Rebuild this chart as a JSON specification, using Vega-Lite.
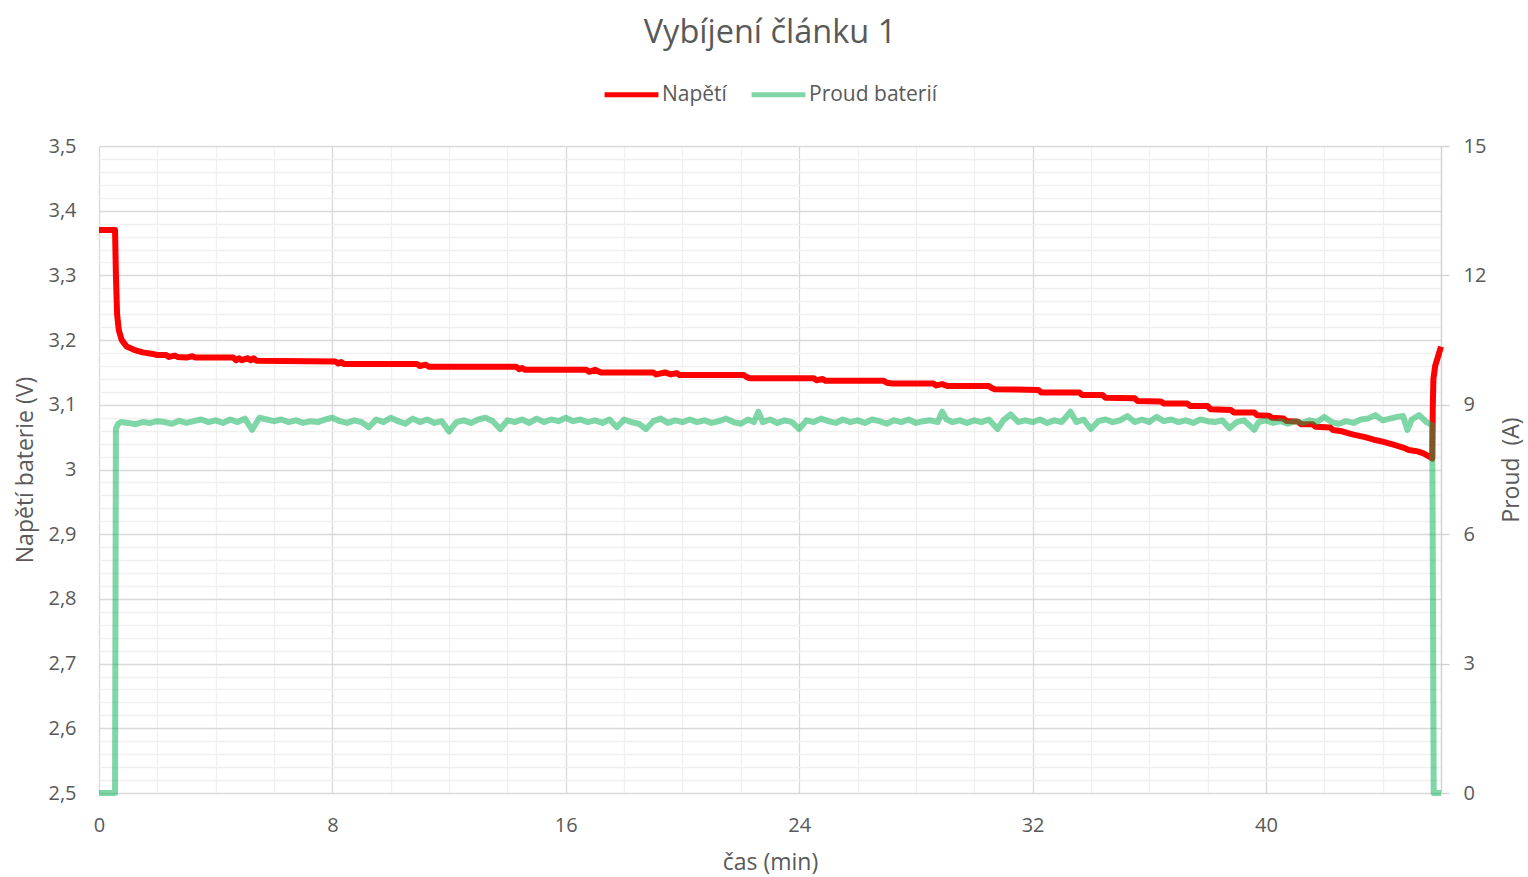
{
  "$schema": "https://vega.github.io/schema/vega-lite/v6.json",
  "width": 1342,
  "height": 647,
  "autosize": {"type": "none"},
  "padding": {"left": 99, "top": 146, "right": 87, "bottom": 84},
  "background": "white",
  "title": {"text": "Vybíjení článku 1", "fontSize": 32.5, "fontWeight": "normal", "color": "#595959", "offset": 16, "anchor": "middle"},
  "datasets": {
    "napeti": [
      {"t": 0, "V": 3.37}, {"t": 0.55, "V": 3.37}, {"t": 0.58, "V": 3.3}, {"t": 0.62, "V": 3.24}, {"t": 0.68, "V": 3.215},
      {"t": 0.78, "V": 3.2}, {"t": 0.95, "V": 3.19}, {"t": 1.2, "V": 3.185}, {"t": 1.5, "V": 3.181}, {"t": 1.8, "V": 3.179},
      {"t": 2.0, "V": 3.177}, {"t": 2.3, "V": 3.177}, {"t": 2.4, "V": 3.174}, {"t": 2.6, "V": 3.176}, {"t": 2.7, "V": 3.174},
      {"t": 3.0, "V": 3.173}, {"t": 3.2, "V": 3.175}, {"t": 3.3, "V": 3.173}, {"t": 4.6, "V": 3.173}, {"t": 4.7, "V": 3.169},
      {"t": 4.8, "V": 3.172}, {"t": 4.9, "V": 3.169}, {"t": 5.1, "V": 3.172}, {"t": 5.2, "V": 3.169}, {"t": 5.3, "V": 3.172},
      {"t": 5.4, "V": 3.168}, {"t": 8.1, "V": 3.167}, {"t": 8.2, "V": 3.164}, {"t": 8.3, "V": 3.166}, {"t": 8.4, "V": 3.163},
      {"t": 10.9, "V": 3.163}, {"t": 11.0, "V": 3.16}, {"t": 11.2, "V": 3.162}, {"t": 11.3, "V": 3.159}, {"t": 14.3, "V": 3.159},
      {"t": 14.4, "V": 3.155}, {"t": 14.5, "V": 3.157}, {"t": 14.6, "V": 3.154}, {"t": 16.7, "V": 3.154}, {"t": 16.8, "V": 3.151},
      {"t": 17.0, "V": 3.154}, {"t": 17.2, "V": 3.15}, {"t": 19.0, "V": 3.15}, {"t": 19.1, "V": 3.147}, {"t": 19.4, "V": 3.15},
      {"t": 19.6, "V": 3.147}, {"t": 19.8, "V": 3.149}, {"t": 19.9, "V": 3.146}, {"t": 22.1, "V": 3.146}, {"t": 22.2, "V": 3.143},
      {"t": 22.3, "V": 3.141}, {"t": 24.5, "V": 3.141}, {"t": 24.6, "V": 3.138}, {"t": 24.8, "V": 3.14}, {"t": 24.9, "V": 3.137},
      {"t": 26.9, "V": 3.137}, {"t": 27.0, "V": 3.134}, {"t": 27.2, "V": 3.133}, {"t": 28.6, "V": 3.133}, {"t": 28.7, "V": 3.13},
      {"t": 28.9, "V": 3.132}, {"t": 29.1, "V": 3.129}, {"t": 30.5, "V": 3.129}, {"t": 30.6, "V": 3.126}, {"t": 30.7, "V": 3.124},
      {"t": 32.2, "V": 3.123}, {"t": 32.3, "V": 3.119}, {"t": 33.6, "V": 3.119}, {"t": 33.7, "V": 3.115}, {"t": 34.4, "V": 3.115},
      {"t": 34.5, "V": 3.111}, {"t": 35.5, "V": 3.11}, {"t": 35.6, "V": 3.106}, {"t": 36.4, "V": 3.105}, {"t": 36.5, "V": 3.102},
      {"t": 37.3, "V": 3.102}, {"t": 37.4, "V": 3.098}, {"t": 38.0, "V": 3.098}, {"t": 38.1, "V": 3.093}, {"t": 38.8, "V": 3.092},
      {"t": 38.9, "V": 3.088}, {"t": 39.6, "V": 3.088}, {"t": 39.7, "V": 3.084}, {"t": 40.1, "V": 3.083}, {"t": 40.2, "V": 3.08},
      {"t": 40.6, "V": 3.079}, {"t": 40.7, "V": 3.075}, {"t": 41.1, "V": 3.074}, {"t": 41.2, "V": 3.07}, {"t": 41.6, "V": 3.07},
      {"t": 41.7, "V": 3.066}, {"t": 42.2, "V": 3.065}, {"t": 42.3, "V": 3.061}, {"t": 42.6, "V": 3.059}, {"t": 43.0, "V": 3.054},
      {"t": 43.4, "V": 3.05}, {"t": 43.7, "V": 3.046}, {"t": 44.0, "V": 3.043}, {"t": 44.4, "V": 3.038}, {"t": 44.7, "V": 3.034},
      {"t": 44.9, "V": 3.03}, {"t": 45.2, "V": 3.028}, {"t": 45.4, "V": 3.025}, {"t": 45.6, "V": 3.02}, {"t": 45.7, "V": 3.017},
      {"t": 45.72, "V": 3.1}, {"t": 45.74, "V": 3.14}, {"t": 45.8, "V": 3.16}, {"t": 45.9, "V": 3.175}, {"t": 46.0, "V": 3.19}
    ],
    "proud": [
      {"t": 0, "I": 0}, {"t": 0.55, "I": 0}, {"t": 0.58, "I": 8.45}, {"t": 0.65, "I": 8.55}, {"t": 0.75, "I": 8.6},
      {"t": 1.0, "I": 8.58}, {"t": 1.25, "I": 8.55}, {"t": 1.5, "I": 8.6}, {"t": 1.75, "I": 8.58}, {"t": 2.0, "I": 8.62},
      {"t": 2.25, "I": 8.6}, {"t": 2.5, "I": 8.56}, {"t": 2.75, "I": 8.63}, {"t": 3.0, "I": 8.58}, {"t": 3.25, "I": 8.62},
      {"t": 3.5, "I": 8.66}, {"t": 3.75, "I": 8.6}, {"t": 4.0, "I": 8.64}, {"t": 4.25, "I": 8.58}, {"t": 4.5, "I": 8.66},
      {"t": 4.75, "I": 8.6}, {"t": 5.0, "I": 8.68}, {"t": 5.25, "I": 8.42}, {"t": 5.5, "I": 8.7}, {"t": 5.75, "I": 8.66},
      {"t": 6.0, "I": 8.62}, {"t": 6.25, "I": 8.66}, {"t": 6.5, "I": 8.6}, {"t": 6.75, "I": 8.64}, {"t": 7.0, "I": 8.58},
      {"t": 7.25, "I": 8.62}, {"t": 7.5, "I": 8.6}, {"t": 7.75, "I": 8.66}, {"t": 8.0, "I": 8.7}, {"t": 8.25, "I": 8.62},
      {"t": 8.5, "I": 8.58}, {"t": 8.75, "I": 8.64}, {"t": 9.0, "I": 8.6}, {"t": 9.25, "I": 8.48}, {"t": 9.5, "I": 8.66},
      {"t": 9.75, "I": 8.6}, {"t": 10.0, "I": 8.7}, {"t": 10.25, "I": 8.62}, {"t": 10.5, "I": 8.56}, {"t": 10.75, "I": 8.68},
      {"t": 11.0, "I": 8.6}, {"t": 11.25, "I": 8.66}, {"t": 11.5, "I": 8.58}, {"t": 11.75, "I": 8.62}, {"t": 12.0, "I": 8.38},
      {"t": 12.25, "I": 8.6}, {"t": 12.5, "I": 8.64}, {"t": 12.75, "I": 8.58}, {"t": 13.0, "I": 8.66}, {"t": 13.25, "I": 8.7},
      {"t": 13.5, "I": 8.62}, {"t": 13.75, "I": 8.44}, {"t": 14.0, "I": 8.64}, {"t": 14.25, "I": 8.6}, {"t": 14.5, "I": 8.66},
      {"t": 14.75, "I": 8.58}, {"t": 15.0, "I": 8.68}, {"t": 15.25, "I": 8.6}, {"t": 15.5, "I": 8.66}, {"t": 15.75, "I": 8.62},
      {"t": 16.0, "I": 8.7}, {"t": 16.25, "I": 8.62}, {"t": 16.5, "I": 8.66}, {"t": 16.75, "I": 8.6}, {"t": 17.0, "I": 8.64},
      {"t": 17.25, "I": 8.58}, {"t": 17.5, "I": 8.66}, {"t": 17.75, "I": 8.48}, {"t": 18.0, "I": 8.66}, {"t": 18.25, "I": 8.6},
      {"t": 18.5, "I": 8.56}, {"t": 18.75, "I": 8.44}, {"t": 19.0, "I": 8.62}, {"t": 19.25, "I": 8.68}, {"t": 19.5, "I": 8.58},
      {"t": 19.75, "I": 8.64}, {"t": 20.0, "I": 8.6}, {"t": 20.25, "I": 8.66}, {"t": 20.5, "I": 8.6}, {"t": 20.75, "I": 8.64},
      {"t": 21.0, "I": 8.58}, {"t": 21.25, "I": 8.62}, {"t": 21.5, "I": 8.68}, {"t": 21.75, "I": 8.6}, {"t": 22.0, "I": 8.56},
      {"t": 22.25, "I": 8.66}, {"t": 22.45, "I": 8.6}, {"t": 22.6, "I": 8.84}, {"t": 22.75, "I": 8.6}, {"t": 23.0, "I": 8.66},
      {"t": 23.25, "I": 8.58}, {"t": 23.5, "I": 8.64}, {"t": 23.75, "I": 8.6}, {"t": 24.0, "I": 8.44}, {"t": 24.25, "I": 8.64},
      {"t": 24.5, "I": 8.6}, {"t": 24.75, "I": 8.68}, {"t": 25.0, "I": 8.62}, {"t": 25.25, "I": 8.58}, {"t": 25.5, "I": 8.66},
      {"t": 25.75, "I": 8.6}, {"t": 26.0, "I": 8.64}, {"t": 26.25, "I": 8.58}, {"t": 26.5, "I": 8.66}, {"t": 26.75, "I": 8.62},
      {"t": 27.0, "I": 8.56}, {"t": 27.25, "I": 8.64}, {"t": 27.5, "I": 8.6}, {"t": 27.75, "I": 8.66}, {"t": 28.0, "I": 8.58},
      {"t": 28.25, "I": 8.62}, {"t": 28.5, "I": 8.64}, {"t": 28.75, "I": 8.6}, {"t": 28.9, "I": 8.84}, {"t": 29.05, "I": 8.66},
      {"t": 29.25, "I": 8.6}, {"t": 29.5, "I": 8.64}, {"t": 29.75, "I": 8.58}, {"t": 30.0, "I": 8.64}, {"t": 30.25, "I": 8.6},
      {"t": 30.5, "I": 8.66}, {"t": 30.8, "I": 8.44}, {"t": 31.0, "I": 8.64}, {"t": 31.25, "I": 8.78}, {"t": 31.5, "I": 8.6},
      {"t": 31.75, "I": 8.64}, {"t": 32.0, "I": 8.6}, {"t": 32.25, "I": 8.66}, {"t": 32.5, "I": 8.58}, {"t": 32.75, "I": 8.64},
      {"t": 33.0, "I": 8.6}, {"t": 33.3, "I": 8.84}, {"t": 33.5, "I": 8.6}, {"t": 33.75, "I": 8.66}, {"t": 34.0, "I": 8.44},
      {"t": 34.25, "I": 8.62}, {"t": 34.5, "I": 8.66}, {"t": 34.75, "I": 8.6}, {"t": 35.0, "I": 8.64}, {"t": 35.25, "I": 8.74},
      {"t": 35.5, "I": 8.6}, {"t": 35.75, "I": 8.66}, {"t": 36.0, "I": 8.6}, {"t": 36.25, "I": 8.72}, {"t": 36.5, "I": 8.62},
      {"t": 36.75, "I": 8.66}, {"t": 37.0, "I": 8.6}, {"t": 37.25, "I": 8.64}, {"t": 37.5, "I": 8.58}, {"t": 37.75, "I": 8.66},
      {"t": 38.0, "I": 8.62}, {"t": 38.25, "I": 8.6}, {"t": 38.5, "I": 8.64}, {"t": 38.75, "I": 8.46}, {"t": 39.0, "I": 8.6},
      {"t": 39.25, "I": 8.64}, {"t": 39.6, "I": 8.42}, {"t": 39.75, "I": 8.6}, {"t": 40.0, "I": 8.64}, {"t": 40.25, "I": 8.58},
      {"t": 40.5, "I": 8.62}, {"t": 40.75, "I": 8.56}, {"t": 41.0, "I": 8.62}, {"t": 41.25, "I": 8.58}, {"t": 41.5, "I": 8.64},
      {"t": 41.75, "I": 8.6}, {"t": 42.0, "I": 8.72}, {"t": 42.25, "I": 8.6}, {"t": 42.5, "I": 8.56}, {"t": 42.75, "I": 8.62},
      {"t": 43.0, "I": 8.58}, {"t": 43.25, "I": 8.66}, {"t": 43.5, "I": 8.68}, {"t": 43.75, "I": 8.76}, {"t": 44.0, "I": 8.64},
      {"t": 44.25, "I": 8.68}, {"t": 44.5, "I": 8.72}, {"t": 44.7, "I": 8.74}, {"t": 44.85, "I": 8.42}, {"t": 45.0, "I": 8.66},
      {"t": 45.25, "I": 8.76}, {"t": 45.5, "I": 8.6}, {"t": 45.7, "I": 8.53}, {"t": 45.75, "I": 0}, {"t": 46.0, "I": 0}
    ]
  },
  "layer": [
    {
      "data": {"name": "napeti"},
      "mark": {"type": "line", "strokeWidth": 6, "strokeJoin": "round", "strokeCap": "butt", "clip": false},
      "encoding": {
        "x": {
          "field": "t", "type": "quantitative", "title": "čas (min)",
          "scale": {"domain": [0, 46], "nice": false, "zero": false},
          "axis": {
            "values": [0, 2, 4, 6, 8, 10, 12, 14, 16, 18, 20, 22, 24, 26, 28, 30, 32, 34, 36, 38, 40, 42, 44, 46],
            "labelExpr": "datum.value % 8 === 0 ? datum.label : ''",
            "gridColor": {"condition": {"test": "datum.value % 8 === 0", "value": "#d9d9d9"}, "value": "#f0f0f0"},
            "gridWidth": 1.3, "labelFlush": false,
            "ticks": false, "domain": false, "labelPadding": 22, "titlePadding": 16, "labelOverlap": false
          }
        },
        "y": {
          "field": "V", "type": "quantitative", "title": "Napětí baterie (V)",
          "scale": {"domain": [2.5, 3.5], "nice": false, "zero": false},
          "axis": {
            "orient": "left",
            "values": [2.5, 2.52, 2.54, 2.56, 2.58, 2.6, 2.62, 2.64, 2.66, 2.68, 2.7, 2.72, 2.74, 2.76, 2.78, 2.8, 2.82, 2.84, 2.86, 2.88, 2.9, 2.92, 2.94, 2.96, 2.98, 3.0, 3.02, 3.04, 3.06, 3.08, 3.1, 3.12, 3.14, 3.16, 3.18, 3.2, 3.22, 3.24, 3.26, 3.28, 3.3, 3.32, 3.34, 3.36, 3.38, 3.4, 3.42, 3.44, 3.46, 3.48, 3.5],
            "labelExpr": "abs(datum.value * 10 - round(datum.value * 10)) < 0.001 ? replace(format(datum.value, '.1~f'), '.', ',') : ''",
            "gridColor": {"condition": {"test": "abs(datum.value * 10 - round(datum.value * 10)) < 0.001", "value": "#d9d9d9"}, "value": "#f0f0f0"},
            "gridWidth": 1.3,
            "ticks": false, "domain": false, "labelPadding": 23, "titlePadding": 10, "labelOverlap": false
          }
        },
        "color": {
          "datum": "Napětí", "type": "nominal",
          "scale": {"domain": ["Napětí", "Proud baterií"], "range": ["#ff0000", "rgba(0,176,80,0.5)"]},
          "legend": {
            "orient": "top", "direction": "horizontal", "title": null,
            "symbolType": "stroke", "symbolStrokeWidth": 5, "symbolSize": 2900,
            "labelFontSize": 21, "labelColor": "#595959", "columnPadding": 14, "offset": 41, "labelOffset": 1
          }
        }
      }
    },
    {
      "data": {"name": "proud"},
      "mark": {"type": "line", "strokeWidth": 6, "strokeJoin": "round", "strokeCap": "butt", "clip": false},
      "encoding": {
        "x": {"field": "t", "type": "quantitative"},
        "y": {
          "field": "I", "type": "quantitative", "title": "Proud\u00a0 (A)",
          "scale": {"domain": [0, 15], "nice": false, "zero": false},
          "axis": {
            "orient": "right", "values": [0, 3, 6, 9, 12, 15], "grid": false,
            "domain": true, "domainColor": "#d0d0d0", "domainWidth": 1.3,
            "ticks": true, "tickColor": "#d0d0d0", "tickSize": 8, "tickWidth": 1.3,
            "labelPadding": 14, "titleAngle": 270, "titlePadding": 38
          }
        },
        "color": {"datum": "Proud baterií", "type": "nominal"}
      }
    }
  ],
  "resolve": {"scale": {"y": "independent"}, "axis": {"y": "independent"}},
  "config": {
    "font": "Open Sans",
    "view": {"stroke": null},
    "axis": {"labelColor": "#595959", "titleColor": "#595959", "labelFontSize": 20, "titleFontSize": 23, "titleFontWeight": "normal"},
    "legend": {"layout": {"top": {"anchor": "middle"}}}
  }
}
